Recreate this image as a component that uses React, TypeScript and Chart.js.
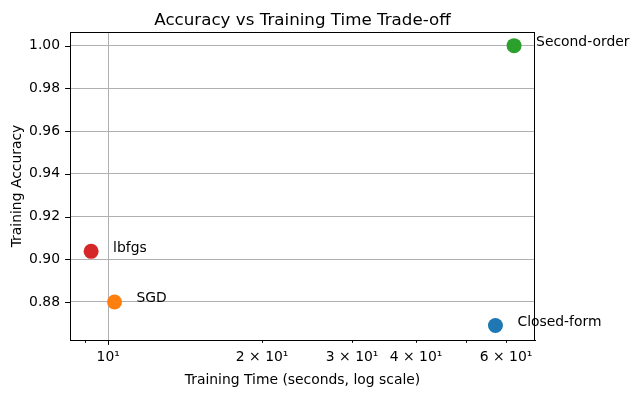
import React, { useEffect, useRef } from "react";
import { Chart, registerables } from "chart.js";

Chart.register(...registerables);

const methods = ["Closed-form", "SGD", "Second-order", "lbfgs"];
const trainTimes = [57.2, 10.29, 62.2, 9.26];
const accuracies = [0.869, 0.88, 1.0, 0.9037];
const pointColors = ["#1f77b4", "#ff7f0e", "#2ca02c", "#d62728"];

const xTickValues = [9, 10, 20, 30, 40, 50, 60];
const xTickLabels = ["", "10¹", "2 × 10¹", "3 × 10¹", "4 × 10¹", "", "6 × 10¹"];
const xMajorTicks = [10];
const yTickValues = [0.88, 0.9, 0.92, 0.94, 0.96, 0.98, 1.0];

const titleText = "Accuracy vs Training Time Trade-off";
const xTitle = "Training Time (seconds, log scale)";
const yTitle = "Training Accuracy";

const FONT = "DejaVu Sans";

const overlayPlugin = {
  id: "overlay",
  afterDraw(chart: any) {
    const { ctx, chartArea } = chart;
    const xs = chart.scales.x;
    const ys = chart.scales.y;
    ctx.save();
    // frame
    ctx.strokeStyle = "#000";
    ctx.lineWidth = 1;
    ctx.strokeRect(chartArea.left + 0.5, chartArea.top + 0.5, chartArea.right - chartArea.left - 1, chartArea.bottom - chartArea.top);
    // tick marks
    ctx.beginPath();
    yTickValues.forEach((v) => {
      const y = Math.round(ys.getPixelForValue(v)) + 0.5;
      ctx.moveTo(chartArea.left - 4.9, y);
      ctx.lineTo(chartArea.left, y);
    });
    xTickValues.forEach((v) => {
      const x = Math.round(xs.getPixelForValue(v)) + 0.5;
      const len = xMajorTicks.includes(v) ? 4.9 : 2.8;
      ctx.moveTo(x, chartArea.bottom);
      ctx.lineTo(x, chartArea.bottom + len);
    });
    ctx.stroke();
    // title
    ctx.fillStyle = "#000";
    ctx.font = `16.7px "${FONT}"`;
    ctx.textAlign = "center";
    ctx.textBaseline = "alphabetic";
    ctx.fillText(titleText, (chartArea.left + chartArea.right) / 2, 25);
    // axis titles
    ctx.font = `13.9px "${FONT}"`;
    ctx.textBaseline = "middle";
    ctx.fillText(xTitle, (chartArea.left + chartArea.right) / 2, 380);
    ctx.save();
    ctx.translate(17, (chartArea.top + chartArea.bottom) / 2);
    ctx.rotate(-Math.PI / 2);
    ctx.fillText(yTitle, 0, 0);
    ctx.restore();
    // annotations
    ctx.textAlign = "left";
    ctx.textBaseline = "alphabetic";
    methods.forEach((m, i) => {
      const px = xs.getPixelForValue(trainTimes[i]);
      const py = ys.getPixelForValue(accuracies[i]);
      ctx.fillText(m, px + 22, py + 0.5);
    });
    ctx.restore();
  },
};

export default function App() {
  const ref = useRef<HTMLCanvasElement | null>(null);
  useEffect(() => {
    document.body.style.margin = "0";
    const chart = new Chart(ref.current as HTMLCanvasElement, {
      type: "scatter",
      data: {
        datasets: [
          {
            data: trainTimes.map((t, i) => ({ x: t, y: accuracies[i] })),
            backgroundColor: pointColors,
            borderWidth: 0,
            pointRadius: 7.5,
            pointHoverRadius: 7.5,
          },
        ],
      },
      options: {
        animation: false,
        responsive: false,
        devicePixelRatio: 1,
        layout: { padding: { top: 32, right: 103, left: 0, bottom: 0 } },
        plugins: { legend: { display: false }, tooltip: { enabled: false }, title: { display: false } },
        scales: {
          x: {
            type: "logarithmic",
            min: 8.42,
            max: 68.35,
            afterBuildTicks: (s: any) => {
              s.ticks = xTickValues.map((v) => ({ value: v, major: xMajorTicks.includes(v) }));
            },
            afterFit: (s: any) => {
              s.height = 58;
            },
            ticks: {
              autoSkip: false,
              maxRotation: 0,
              minRotation: 0,
              padding: 9,
              color: "#000",
              font: { family: FONT, size: 13.9 },
              callback: (v: any) => {
                const idx = xTickValues.indexOf(Number(v));
                return idx >= 0 ? xTickLabels[idx] : "";
              },
            },
            grid: {
              drawTicks: false,
              color: (c: any) => (c.tick && xMajorTicks.includes(c.tick.value) ? "#b0b0b0" : "rgba(0,0,0,0)"),
              lineWidth: 1,
            },
            border: { display: true, color: "#000", width: 1 },
          },
          y: {
            type: "linear",
            min: 0.8622,
            max: 1.0064,
            afterBuildTicks: (s: any) => {
              s.ticks = yTickValues.map((v) => ({ value: v }));
            },
            afterFit: (s: any) => {
              s.width = 70;
            },
            ticks: {
              padding: 10,
              color: "#000",
              font: { family: FONT, size: 13.9 },
              callback: (v: any) => Number(v).toFixed(2),
            },
            grid: { drawTicks: false, color: "#b0b0b0", lineWidth: 1 },
            border: { display: true, color: "#000", width: 1 },
          },
        },
      },
      plugins: [overlayPlugin],
    });
    return () => chart.destroy();
  }, []);
  return (
    <div style={{ width: 638, height: 398, background: "#fff" }}>
      <canvas ref={ref} width={638} height={398} />
    </div>
  );
}
